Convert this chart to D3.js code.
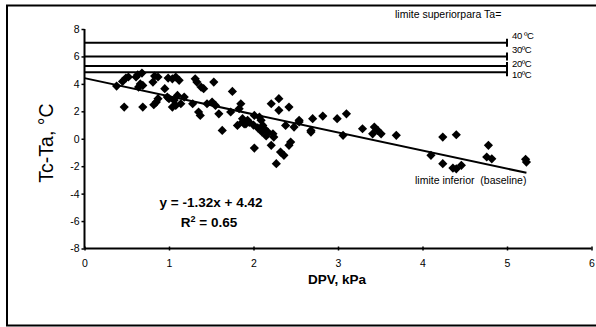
<!DOCTYPE html>
<html>
<head>
<meta charset="utf-8">
<script src="https://cdn.jsdelivr.net/npm/d3@7"></script>
<style>
  body { margin: 0; background: #fff; }
  text { font-family: "Liberation Sans", Arial, sans-serif; fill: #000; }
</style>
</head>
<body>
<svg id="chart"></svg>
<script>
// measured points (DPV kPa, Tc-Ta °C)
const dpv = [0.38, 0.45, 0.49, 0.52, 0.61, 0.63, 0.68, 0.66, 0.69, 0.64, 0.83, 0.87, 0.81, 0.95, 0.99,
  0.85, 0.87, 0.82, 0.47, 0.69, 0.98, 1.00, 1.04, 1.08, 1.12, 1.04, 1.31, 1.33, 1.41, 1.38, 1.53, 1.75,
  1.10, 1.18, 1.06, 1.14, 1.08, 1.28, 1.35, 1.37, 1.45, 1.51, 1.55, 1.59, 1.73, 1.85, 1.83, 1.63, 1.81,
  1.87, 1.91, 2.01, 2.07, 2.30, 2.21, 2.42, 2.30, 1.87, 1.93, 1.89, 2.09, 2.11, 2.13, 2.17, 2.23, 2.24,
  2.21, 2.01, 2.27, 2.32, 2.36, 2.42, 2.44, 2.38, 2.48, 2.54, 2.68, 2.70, 2.82, 2.99, 3.10, 3.06, 3.29,
  3.43, 3.47, 3.41, 3.51, 3.69, 4.10, 4.24, 4.40, 4.24, 4.36, 4.40, 4.46, 4.78, 4.76, 4.82, 5.23, 5.22,
  2.68, 2.54, 1.95, 2.00, 2.05, 2.15, 2.10];
const tcta = [3.84, 4.18, 4.43, 4.50, 4.50, 4.66, 4.79, 4.00, 3.89, 3.77, 4.57, 4.50, 4.13, 3.65, 4.42,
  2.67, 2.92, 2.48, 2.31, 2.31, 3.04, 2.92, 2.31, 4.50, 4.26, 4.37, 4.37, 4.13, 3.65, 3.77, 4.13, 3.45,
  3.16, 3.04, 2.80, 2.55, 2.43, 2.55, 1.95, 1.70, 2.55, 2.67, 2.43, 1.82, 1.95, 2.55, 2.19, 0.61, 0.97,
  1.22, 1.09, 1.70, 1.58, 2.92, 2.55, 2.31, 2.07, 1.46, 1.34, 1.09, 1.34, 0.97, 0.73, 0.49, 0.36, 0.12,
  -0.48, -0.68, -1.82, -0.97, -1.21, -0.48, -0.24, 0.97, 0.85, 1.22, 0.61, 1.46, 1.65, 1.46, 1.82, 0.25, 0.73,
  0.85, 0.61, 0.36, 0.36, 0.25, -1.21, 0.12, 0.29, -1.82, -2.14, -2.19, -1.94, -0.48, -1.33, -1.46, -1.70, -1.50,
  0.49, 1.34, 1.20, 1.00, 0.80, 0.20, 0.50];

// upper limit lines for Ta
const taLabels = ["40 ºC", "30ºC", "20ºC", "10ºC"];
const taUpper = [7.0, 6.0, 5.3, 4.85];
const upperEnd = 5;

// regression (baseline)
const slope = -1.32, intercept = 4.42;
const fitRange = [0, 5.23];

const xTicks = [0, 1, 2, 3, 4, 5, 6];
const yTicks = [8, 6, 4, 2, 0, -2, -4, -6, -8];

const W = 596, H = 327;
const svg = d3.select("#chart").attr("width", W).attr("height", H);

// outer frame
svg.append("rect")
  .attr("x", 7).attr("y", 5.5)
  .attr("width", 600).attr("height", 320)
  .attr("fill", "none").attr("stroke", "#000").attr("stroke-width", 2);

const x = d3.scaleLinear().domain([0, 6]).range([84.5, 591.5]);
const y = d3.scaleLinear().domain([-8, 8]).range([248.5, 29]);

// axes (plain hyphen for negatives, as in the original)
const fmt = d => String(d);

const xAxis = svg.append("g")
  .attr("transform", "translate(0," + y(-8) + ")")
  .call(d3.axisBottom(x).tickValues(xTicks).tickSize(2).tickPadding(9).tickFormat(fmt));
xAxis.select(".domain").attr("stroke-width", 2).attr("d", "M" + x(0) + ",0H" + x(6));
xAxis.selectAll(".tick line").attr("y1", -2).attr("stroke-width", 1.5);
xAxis.selectAll("text").attr("font-size", 10.5).style("font-family", "Liberation Sans, Arial, sans-serif");

const yAxis = svg.append("g")
  .attr("transform", "translate(" + x(0) + ",0)")
  .call(d3.axisLeft(y).tickValues(yTicks).tickSize(3).tickPadding(2).tickFormat(fmt));
yAxis.select(".domain").attr("stroke-width", 2).attr("d", "M0," + y(8) + "V" + y(-8));
yAxis.selectAll(".tick line").attr("stroke-width", 1.5);
yAxis.selectAll("text").attr("font-size", 10.5).style("font-family", "Liberation Sans, Arial, sans-serif");

// axis titles
svg.append("text")
  .attr("transform", "translate(53,143) rotate(-90)")
  .attr("text-anchor", "middle")
  .attr("font-size", 19.5)
  .text("Tc-Ta, °C");

svg.append("text")
  .attr("x", 337).attr("y", 284)
  .attr("text-anchor", "middle")
  .attr("font-size", 13.5).attr("font-weight", "bold")
  .text("DPV, kPa");

// upper limit lines
const upper = svg.append("g");
upper.selectAll("line.lim")
  .data(taUpper)
  .join("line")
  .attr("class", "lim")
  .attr("x1", x(0)).attr("x2", x(upperEnd))
  .attr("y1", d => y(d)).attr("y2", d => y(d))
  .attr("stroke", "#000").attr("stroke-width", 2);
upper.selectAll("line.cap")
  .data(taUpper)
  .join("line")
  .attr("class", "cap")
  .attr("x1", x(upperEnd)).attr("x2", x(upperEnd))
  .attr("y1", d => y(d) - 4).attr("y2", d => y(d) + 4)
  .attr("stroke", "#000").attr("stroke-width", 2);
const labelShift = [-4, -3, 1, 5.5];
upper.selectAll("text")
  .data(taLabels)
  .join("text")
  .attr("x", x(upperEnd) + 5)
  .attr("y", (d, i) => y(taUpper[i]) + labelShift[i])
  .attr("font-size", 9.5)
  .attr("letter-spacing", -0.4)
  .text(d => d);

svg.append("text")
  .attr("x", 395).attr("y", 18)
  .attr("font-size", 10.5)
  .text("limite superiorpara Ta=");

// points
const diamond = "M0,-4.6L4.6,0L0,4.6L-4.6,0Z";
svg.append("g")
  .selectAll("path")
  .data(dpv.map((d, i) => [d, tcta[i]]))
  .join("path")
  .attr("transform", d => "translate(" + x(d[0]) + "," + y(d[1]) + ")")
  .attr("d", diamond)
  .attr("fill", "#000");

// baseline
svg.append("line")
  .attr("x1", x(fitRange[0])).attr("y1", y(intercept + slope * fitRange[0]))
  .attr("x2", x(fitRange[1])).attr("y2", y(intercept + slope * fitRange[1]))
  .attr("stroke", "#000").attr("stroke-width", 2);

svg.append("text")
  .attr("x", 415).attr("y", 184)
  .attr("font-size", 10.5)
  .style("white-space", "pre")
  .text("limite inferior  (baseline)");

// equation
const eq = svg.append("g").attr("font-weight", "bold").attr("font-size", 13.5);
eq.append("text")
  .attr("x", 211).attr("y", 207)
  .attr("text-anchor", "middle")
  .text("y = -1.32x + 4.42");
const r2 = eq.append("text")
  .attr("x", 209).attr("y", 227)
  .attr("text-anchor", "middle");
r2.append("tspan").text("R");
r2.append("tspan").attr("font-size", 9).attr("dy", -5).text("2");
r2.append("tspan").attr("dy", 5).text(" = 0.65");
</script>
</body>
</html>
